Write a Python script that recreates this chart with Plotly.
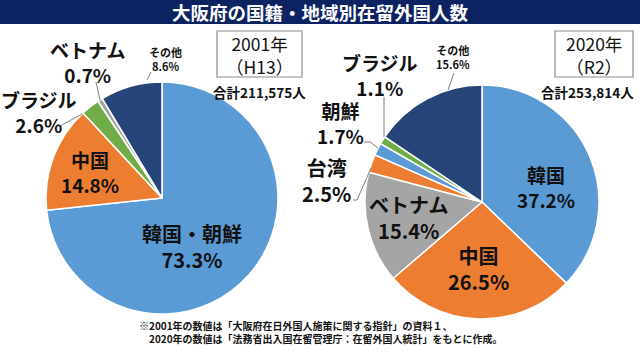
import plotly.graph_objects as go

W, H = 640, 355

# ---- data ----
title_text = "大阪府の国籍・地域別在留外国人数"
left_labels = ["韓国・朝鮮", "中国", "ブラジル", "ベトナム", "その他"]
left_values = [73.3, 14.8, 2.6, 0.7, 8.6]
left_year = ["2001年", "（H13）"]
left_total = "合計211,575人"

right_labels = ["韓国", "中国", "ベトナム", "台湾", "朝鮮", "ブラジル", "その他"]
right_values = [37.2, 26.5, 15.4, 2.5, 1.7, 1.1, 15.6]
right_year = ["2020年", "（R2）"]
right_total = "合計253,814人"

footnotes = [
    "※2001年の数値は「大阪府在日外国人施策に関する指針」の資料１、",
    "　2020年の数値は「法務省出入国在留管理庁：在留外国人統計」をもとに作成。",
]

# ---- styles ----
BLUE, ORANGE, GREEN, GRAY, NAVY = "#5b9bd5", "#ed7d31", "#70ad47", "#a5a5a5", "#264478"
left_colors = [BLUE, ORANGE, GREEN, GRAY, NAVY]
right_colors = [BLUE, ORANGE, GRAY, ORANGE, BLUE, GREEN, NAVY]
FONT = "Noto Sans CJK JP"


def px(x):
    return x / W


def py(y):
    return 1 - y / H


fig = go.Figure()
fig.add_trace(go.Pie(
    labels=left_labels, values=left_values, sort=False, direction="clockwise", rotation=0,
    marker=dict(colors=left_colors, line=dict(color="white", width=1.5)),
    textinfo="none", hoverinfo="label+percent",
    domain=dict(x=[px(46), px(278)], y=[py(314), py(82)]),
))
fig.add_trace(go.Pie(
    labels=right_labels, values=right_values, sort=False, direction="clockwise", rotation=0,
    marker=dict(colors=right_colors, line=dict(color="white", width=1.5)),
    textinfo="none", hoverinfo="label+percent",
    domain=dict(x=[px(365), px(599)], y=[py(319), py(85)]),
))

annotations = []


def add_text(text, x, y, size, color="#111111", weight="bold", xanchor="center", align="center"):
    annotations.append(dict(
        text=text, x=px(x), y=py(y), xref="paper", yref="paper", showarrow=False,
        xanchor=xanchor, yanchor="middle", borderpad=0, align=align,
        font=dict(family=FONT, size=size, color=color, weight=weight),
    ))


# label block positions (center x, center y, font size)
left_pos = {
    "韓国・朝鮮": (192, 246.5, 20),
    "中国": (90, 171.5, 19),
    "ブラジル": (39, 112, 19),
    "ベトナム": (87, 62, 19),
    "その他": (165, 58.5, 11),
}
right_pos = {
    "韓国": (546, 187, 19),
    "中国": (478, 268, 20),
    "ベトナム": (408, 217, 20),
    "台湾": (326, 180.5, 20),
    "朝鮮": (340, 122.5, 19),
    "ブラジル": (380, 75, 19),
    "その他": (453, 57, 11),
}
for labels, values, pos in ((left_labels, left_values, left_pos), (right_labels, right_values, right_pos)):
    for lab, val in zip(labels, values):
        x, y, s = pos[lab]
        add_text(f"{lab}<br>{val}%", x, y, s)

# title
add_text(title_text, 320, 12.5, 18.5, color="white")

# year boxes & totals
add_text("<br>".join(left_year), 259, 54.5, 17.5, weight="normal")
add_text(left_total, 259, 92, 13.5)
add_text("<br>".join(right_year), 594, 54.5, 17.5, weight="normal")
add_text(right_total, 587, 92, 13.5)

# footnotes
add_text("<br>".join(footnotes), 138, 332, 10, xanchor="left", align="left")

shapes = [
    dict(type="rect", xref="paper", yref="paper", x0=0, x1=1, y0=py(24), y1=1,
         fillcolor="#0d2361", line=dict(width=0), layer="below"),
    dict(type="rect", xref="paper", yref="paper", x0=px(217), x1=px(302), y0=py(77), y1=py(31),
         fillcolor="white", line=dict(color="#8c8c8c", width=1.2)),
    dict(type="rect", xref="paper", yref="paper", x0=px(555), x1=px(633), y0=py(77), y1=py(31),
         fillcolor="white", line=dict(color="#8c8c8c", width=1.2)),
]

leaders = [
    [(96, 82), (100, 100)],
    [(60, 126), (82, 114)],
    [(147, 80), (151, 72)],
    [(448, 90), (454, 73)],
    [(384, 97), (384, 137)],
    [(364, 142), (370, 142), (378, 148)],
    [(353, 200), (357, 200), (371, 168)],
]
for pts in leaders:
    path = "M " + " L ".join(f"{px(x)},{py(y)}" for x, y in pts)
    shapes.append(dict(type="path", xref="paper", yref="paper", path=path,
                       line=dict(color="#7f7f7f", width=1)))

fig.update_layout(
    width=W, height=H, margin=dict(l=0, r=0, t=0, b=0),
    paper_bgcolor="white", plot_bgcolor="white", showlegend=False,
    annotations=annotations, shapes=shapes,
    font=dict(family=FONT),
)

fig.write_html(
    "out.html",
    config={"displayModeBar": False},
    post_script="document.body.style.margin='0';document.body.style.overflow='hidden';",
)
